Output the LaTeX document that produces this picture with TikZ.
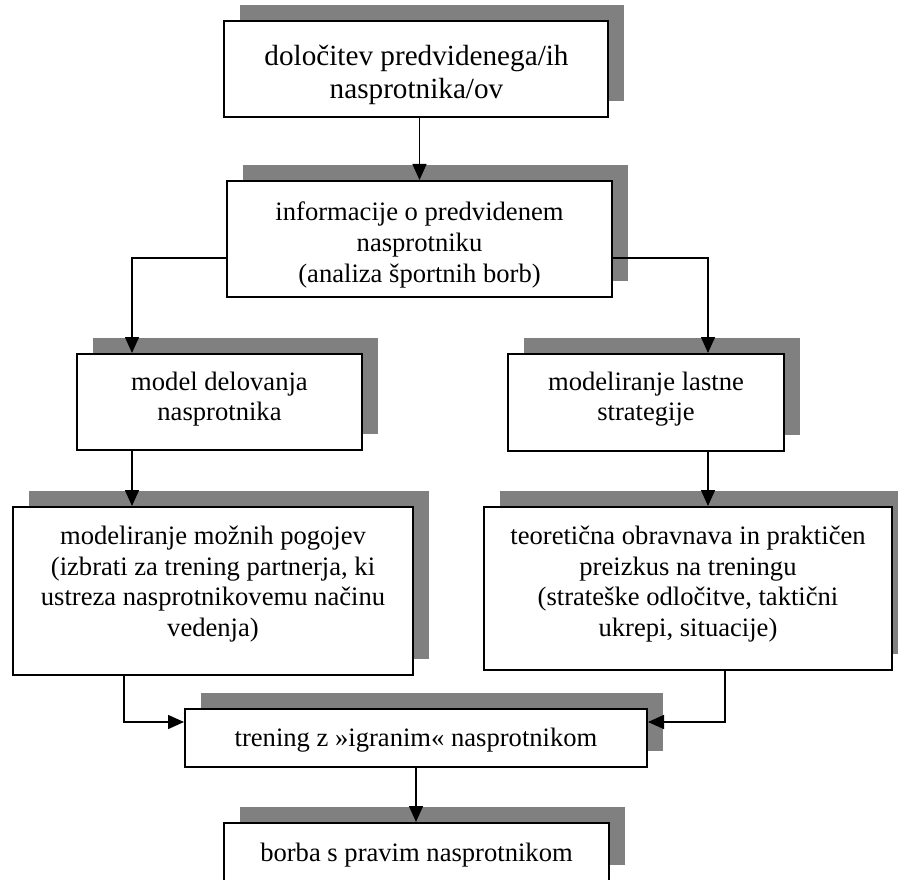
\documentclass[tikz,border=0pt]{standalone}
\usepackage{fontspec}
\setmainfont{Liberation Serif}
\usetikzlibrary{arrows.meta,shadows}
\definecolor{shadowgray}{HTML}{808080}
\begin{document}
\begin{tikzpicture}[x=1pt,y=-1pt,
  box/.style={draw=black, line width=2pt, fill=white, inner sep=0pt,
    copy shadow={shadow xshift=16pt, shadow yshift=16pt, fill=shadowgray, draw=none}},
  txt/.style={align=center, inner sep=0pt, font=\fontsize{26.6}{30.6}\selectfont},
  bigtxt/.style={align=center, inner sep=0pt, font=\fontsize{29.2}{32.5}\selectfont},
  arr/.style={line width=1.5pt, -{Triangle[length=16pt,width=14pt]}}]
\useasboundingbox (0,0) rectangle (898,880);
\clip (0,0) rectangle (898,880);

% boxes with their offset shadows
\node[box, minimum width=384pt, minimum height=96pt]  (b1) at (416,69)    {};
\node[box, minimum width=385pt, minimum height=116pt] (b2) at (419.5,239) {};
\node[box, minimum width=285pt, minimum height=96pt]  (b3) at (219.5,402) {};
\node[box, minimum width=400pt, minimum height=168pt] (b4) at (213,591)   {};
\node[box, minimum width=276pt, minimum height=97pt]  (b5) at (646,402.5) {};
\node[box, minimum width=408pt, minimum height=163pt] (b6) at (688,588.5) {};
\node[box, minimum width=462pt, minimum height=58pt]  (b7) at (416,738)   {};
\node[box, minimum width=385pt, minimum height=58pt]  (b8) at (416.5,852) {};

% box texts
\node[bigtxt] (t1) at (416.5,75) {določitev predvidenega/ih\\nasprotnika/ov};
\node[txt] (t2) at (419.5,245) {informacije o predvidenem\\nasprotniku\\(analiza športnih borb)};
\node[txt] (t3) at (219.5,399) {model delovanja\\nasprotnika};
\node[txt] (t4) at (213,584)  {modeliranje možnih pogojev\\(izbrati za trening partnerja, ki\\ustreza nasprotnikovemu načinu\\vedenja)};
\node[txt] (t5) at (646,399)  {modeliranje lastne\\strategije};
\node[txt] (t6) at (688,584)  {teoretična obravnava in praktičen\\preizkus na treningu\\(strateške odločitve, taktični\\ukrepi, situacije)};
\node[txt] (t7) at (416,740)  {trening z »igranim« nasprotnikom};
\node[txt] (t8) at (416.5,855) {borba s pravim nasprotnikom};

% bend points of the connectors
\coordinate (l1) at (132,258);
\coordinate (r1) at (708,258);
\coordinate (l2) at (124,722);
\coordinate (r2) at (725,722);

% connectors
\draw[arr] (b1.south -| b2.north) -- (b2.north);
\draw[arr] (b2.west |- l1) -| (b3.north -| l1);
\draw[arr] (b2.east |- r1) -| (b5.north -| r1);
\draw[arr] (b3.south -| l1) -- (b4.north -| l1);
\draw[arr] (b5.south -| r1) -- (b6.north -| r1);
\draw[arr] (b4.south -| l2) |- (b7.west |- l2);
\draw[arr] (b6.south -| r2) |- (b7.east |- r2);
\draw[arr] (b7.south) -- (b7.south |- b8.north);
\end{tikzpicture}
\end{document}
